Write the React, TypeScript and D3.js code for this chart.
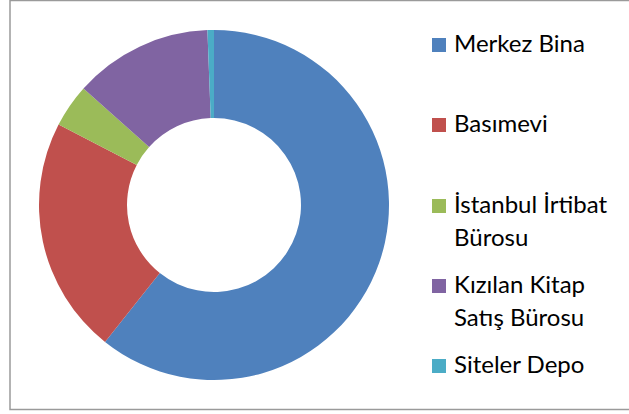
import React from "react";
import * as d3 from "d3";

const categories = ["Merkez Bina", "Basımevi", "İstanbul İrtibat Bürosu", "Kızılan Kitap Satış Bürosu", "Siteler Depo"];
const legendLines = [["Merkez Bina"], ["Basımevi"], ["İstanbul İrtibat", "Bürosu"], ["Kızılan Kitap", "Satış Bürosu"], ["Siteler Depo"]];
const values = [60.7, 21.9, 4.0, 12.8, 0.6];
const colors = ["#4F81BD", "#C0504D", "#9BBB59", "#8064A2", "#4BACC6"];

const W = 629;
const H = 414;

export default function App() {
  const cx = 214;
  const cy = 205;
  const outerR = 175;
  const innerR = 87;
  const pie = d3.pie<number>().sort(null).value((d) => d)(values);
  const arc = d3.arc<d3.PieArcDatum<number>>().innerRadius(innerR).outerRadius(outerR);
  const legendY = [52, 132, 213, 293, 373];
  const lineH = 33;
  return (
    <svg width={W} height={H} style={{ position: "absolute", left: 0, top: 0 }}>
      <rect x={0} y={0} width={W} height={H} fill="#fff" />
      <path d={`M${W + 2},0.5 H10 V409.5 H${W + 2}`} fill="none" stroke="#9a9a9a" strokeWidth={1.5} />
      <g transform={`translate(${cx},${cy})`}>
        {pie.map((p, i) => (
          <path key={categories[i]} d={arc(p) || ""} fill={colors[i]} />
        ))}
      </g>
      <g fontFamily="Lato, 'Noto Sans', sans-serif" fontSize={24} fill="#000">
        {legendLines.map((lines, i) => (
          <g key={categories[i]}>
            <rect x={432} y={legendY[i] - 14} width={14} height={14} fill={colors[i]} />
            {lines.map((t, j) => (
              <text key={j} x={454} y={legendY[i] + j * lineH}>{t}</text>
            ))}
          </g>
        ))}
      </g>
    </svg>
  );
}
